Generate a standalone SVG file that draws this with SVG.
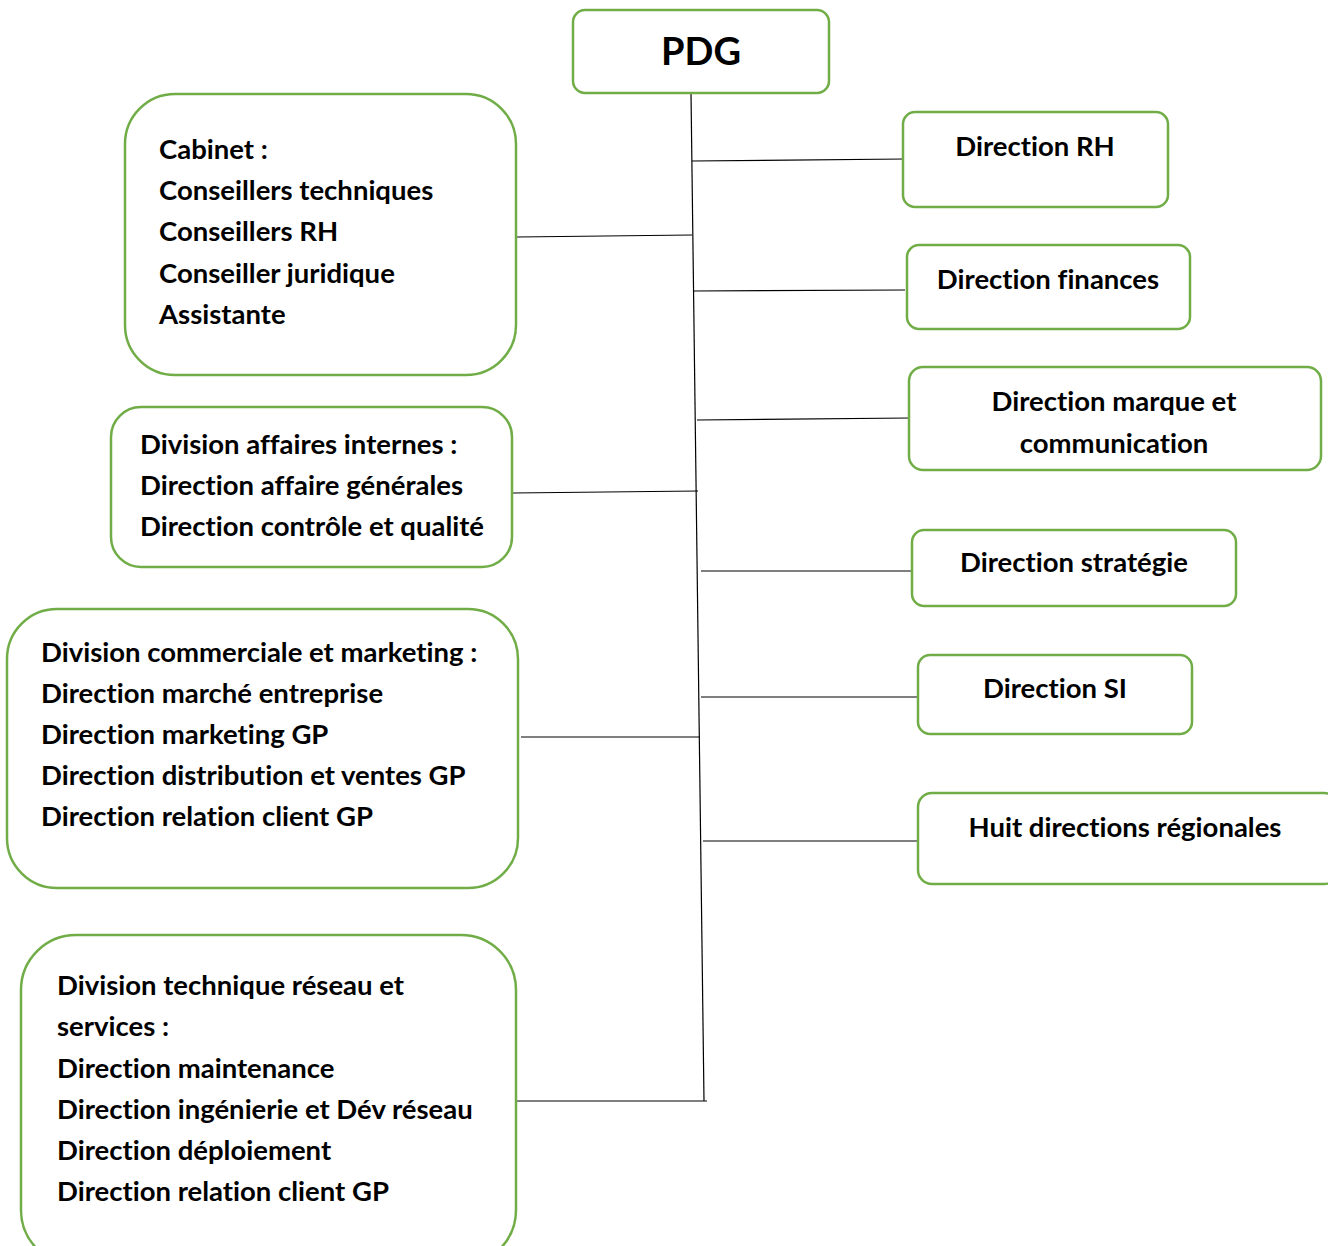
<svg xmlns="http://www.w3.org/2000/svg" width="1328" height="1246" viewBox="0 0 1328 1246">
<style>
.box{fill:#fff;stroke:#70AD47;stroke-width:2.5}
text{font-family:Lato,"Open Sans","Liberation Sans",sans-serif;font-weight:bold;font-size:27.5px;fill:#000;font-variant-ligatures:none;font-feature-settings:"liga" 0}
.c{text-anchor:middle}
.big{font-size:38px}
.ln{stroke:#000;stroke-width:1.2;fill:none}
</style>
<rect width="1328" height="1246" fill="#fff"/>
<g id="connectors">
<line class="ln" x1="691" y1="93" x2="704" y2="1101"/>
<line class="ln" x1="692" y1="161" x2="905" y2="159"/>
<line class="ln" x1="693" y1="291" x2="905" y2="290"/>
<line class="ln" x1="697" y1="420" x2="910" y2="418"/>
<line class="ln" x1="701" y1="571" x2="912" y2="571"/>
<line class="ln" x1="701" y1="697" x2="920" y2="697"/>
<line class="ln" x1="703" y1="841" x2="925" y2="841"/>
<line class="ln" x1="517" y1="237" x2="692" y2="235"/>
<line class="ln" x1="513" y1="493" x2="698" y2="491"/>
<line class="ln" x1="521" y1="737" x2="700" y2="737"/>
<line class="ln" x1="517" y1="1101" x2="707" y2="1101"/>
</g>
<g id="pdg"><rect class="box" x="573" y="10" width="256" height="83" rx="12"/><text class="c big" x="701" y="65">PDG</text></g>
<g id="rh"><rect class="box" x="903" y="112" width="265" height="95" rx="12"/><text class="c" x="1035" y="156">Direction RH</text></g>
<g id="finances"><rect class="box" x="907" y="245" width="283" height="84" rx="12"/><text class="c" x="1048" y="289">Direction finances</text></g>
<g id="marque"><rect class="box" x="909" y="367" width="412" height="103" rx="14"/><text class="c" x="1114" y="411">Direction marque et</text><text class="c" x="1114" y="453">communication</text></g>
<g id="strategie"><rect class="box" x="912" y="530" width="324" height="76" rx="12"/><text class="c" x="1074" y="572">Direction stratégie</text></g>
<g id="si"><rect class="box" x="918" y="655" width="274" height="79" rx="12"/><text class="c" x="1055" y="698">Direction SI</text></g>
<g id="regionales"><rect class="box" x="918" y="793" width="420" height="91" rx="14"/><text class="c" x="1125" y="837">Huit directions régionales</text></g>
<g id="cabinet"><rect class="box" x="125" y="94" width="391" height="281" rx="50"/>
<text x="159" y="159">Cabinet :</text><text x="159" y="200">Conseillers techniques</text><text x="159" y="241">Conseillers RH</text><text x="159" y="283">Conseiller juridique</text><text x="159" y="324">Assistante</text></g>
<g id="affaires"><rect class="box" x="111" y="407" width="401" height="160" rx="30"/>
<text x="140" y="454">Division affaires internes :</text><text x="140" y="495">Direction affaire générales</text><text x="140" y="536">Direction contrôle et qualité</text></g>
<g id="commerciale"><rect class="box" x="7" y="609" width="511" height="279" rx="50"/>
<text x="41" y="662">Division commerciale et marketing :</text><text x="41" y="703">Direction marché entreprise</text><text x="41" y="744">Direction marketing GP</text><text x="41" y="785">Direction distribution et ventes GP</text><text x="41" y="826">Direction relation client GP</text></g>
<g id="technique"><rect class="box" x="21" y="935" width="495" height="330" rx="55"/>
<text x="57" y="995">Division technique réseau et</text><text x="57" y="1036">services :</text><text x="57" y="1078">Direction maintenance</text><text x="57" y="1119">Direction ingénierie et Dév réseau</text><text x="57" y="1160">Direction déploiement</text><text x="57" y="1201">Direction relation client GP</text></g>
</svg>
